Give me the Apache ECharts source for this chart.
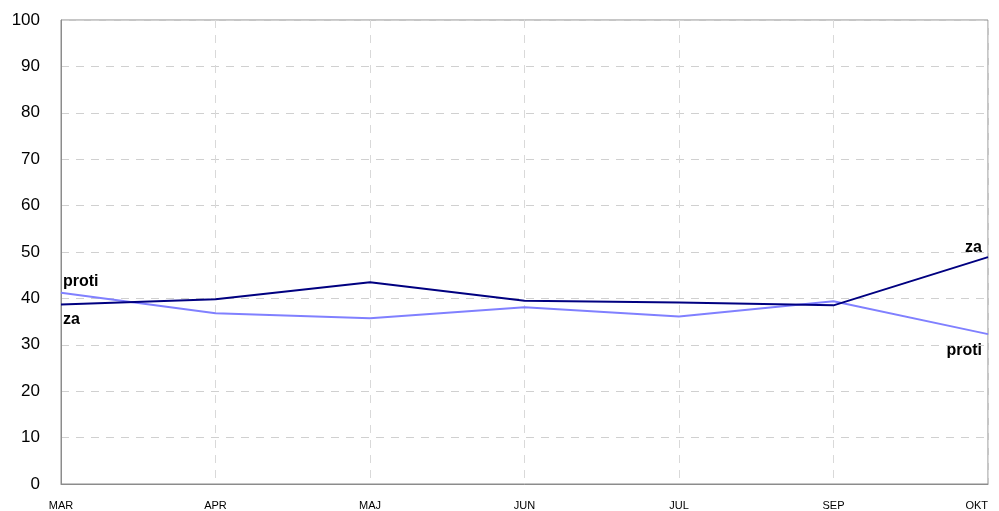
<!DOCTYPE html>
<html><head><meta charset="utf-8">
<script src="https://cdn.jsdelivr.net/npm/echarts@6/dist/echarts.min.js"></script>
<style>html,body{margin:0;padding:0;background:#fff}#c{width:999px;height:511px}</style>
</head><body><div id="c"></div>
<script>
var categories = ['MAR','APR','MAJ','JUN','JUL','SEP','OKT'];
var za = [38.7, 39.8, 43.5, 39.5, 39.1, 38.5, 48.9];
var proti = [41.2, 36.8, 35.7, 38.1, 36.1, 39.4, 32.3];
var yTicks = [0,10,20,30,40,50,60,70,80,90,100];

var chart = echarts.init(document.getElementById('c'), null, {renderer:'canvas'});
var last = categories.length - 1;
function lbl(pos, off){
  return {show:true, position:pos, distance:2, offset:off, color:'#000', fontFamily:'Arial, Liberation Sans', fontWeight:'bold', fontSize:16};
}
chart.setOption({
  animation:false,
  grid:{left:61, right:11, top:20, bottom:27, show:true, borderColor:'#8c8c8c', borderWidth:1},
  xAxis:{type:'category', data:categories, boundaryGap:false,
    axisLine:{show:true, lineStyle:{color:'#8c8c8c'}}, axisTick:{show:false},
    axisLabel:{color:'#000', fontSize:11, fontFamily:'Arial, Liberation Sans', margin:16, interval:0, alignMaxLabel:'right'},
    splitLine:{show:true, lineStyle:{color:'#d9d9d9', type:[8,7]}}},
  yAxis:{type:'value', min:yTicks[0], max:yTicks[yTicks.length-1], interval:10,
    axisLine:{show:true, lineStyle:{color:'#8c8c8c'}}, axisTick:{show:false},
    axisLabel:{color:'#000', fontSize:17, fontFamily:'Arial, Liberation Sans', margin:21},
    splitLine:{show:true, lineStyle:{color:'#d0d0d0', type:[8,7]}}},
  series:[
    {name:'proti', type:'line', data:proti, symbol:'none', lineStyle:{color:'#8080ff', width:2}, itemStyle:{color:'#8080ff'},
     markPoint:{symbol:'circle', symbolSize:0, data:[
       {coord:[categories[0], proti[0]], value:'proti', label:lbl('right',[0,-11])},
       {coord:[categories[last], proti[last]], value:'proti', label:lbl('left',[-4,16])}
     ], label:{formatter:'proti'}}},
    {name:'za', type:'line', data:za, symbol:'none', lineStyle:{color:'#000080', width:2}, itemStyle:{color:'#000080'},
     markPoint:{symbol:'circle', symbolSize:0, data:[
       {coord:[categories[0], za[0]], value:'za', label:lbl('right',[0,15])},
       {coord:[categories[last], za[last]], value:'za', label:lbl('left',[-4,-10])}
     ], label:{formatter:'za'}}}
  ]
});
</script></body></html>
